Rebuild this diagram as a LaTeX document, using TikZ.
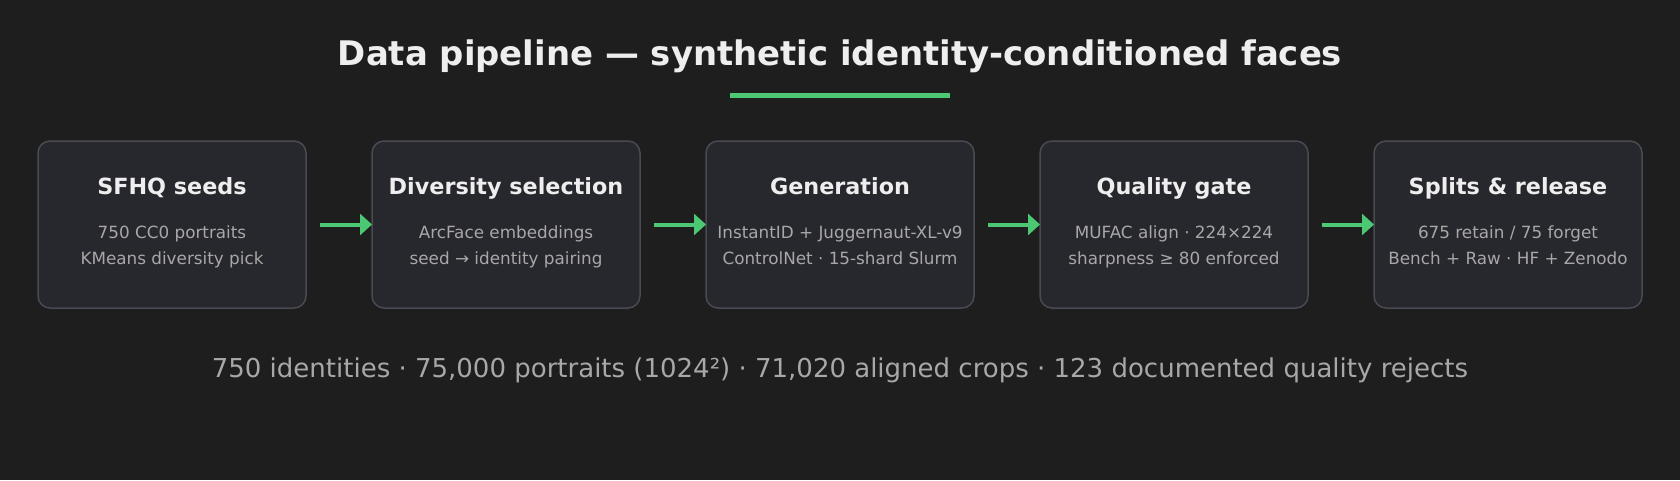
\documentclass[tikz,border=0pt]{standalone}
\usepackage{fontspec}
\setmainfont{DejaVu Sans}
\usetikzlibrary{arrows.meta, positioning}

\definecolor{bgcol}{HTML}{1E1E1E}
\definecolor{boxfill}{HTML}{27272E}
\definecolor{boxline}{HTML}{4A4A52}
\definecolor{accent}{HTML}{4CC872}
\definecolor{headcol}{HTML}{EEEEEE}
\definecolor{subcol}{HTML}{A8A8A8}

\begin{document}
\begin{tikzpicture}[
            x = 1pt,
            y = -1pt,
            > = {Triangle[length=12pt, width=21pt]},
            node distance = 66pt,
            font = \fontsize{16.8}{26}\selectfont
        ]

        \tikzstyle{stage}=[
            draw = boxline,
            line width = 1.5pt,
            fill = boxfill,
            rounded corners = 12pt,
            outer sep = 0pt,
            minimum width = 268pt,
            minimum height = 167pt
        ]
        \tikzset{head/.style={anchor=base, text=headcol, font=\fontsize{22.3}{26}\selectfont\bfseries}}
        \tikzset{sub/.style={anchor=base, text=subcol, align=center, inner sep=0pt}}
        \tikzset{flow/.style={->, draw=accent, fill=accent, line width=4pt}}

        % background and fixed size
        \fill[bgcol] (0,0) rectangle (1680,480);

        \node[anchor=base, text=headcol, font=\fontsize{33.9}{40}\selectfont\bfseries] (title) at (840,65) {Data pipeline — synthetic identity-conditioned faces};
        \coordinate (ul) at (840,95);
        \draw[accent, line width=5pt] ([xshift=-110pt]ul) -- ([xshift=110pt]ul);

        \node[stage] (seeds) at (172,224.5) {};
        \node[stage] (select) [right=of seeds] {};
        \node[stage] (gen) [right=of select] {};
        \node[stage] (gate) [right=of gen] {};
        \node[stage] (release) [right=of gate] {};

        % titles sit 30.5pt above centre, last sub line 39.5pt below
        \node[head] (seedsh) at ([yshift=30.5pt]seeds.center) {SFHQ seeds};
        \node[sub] at ([yshift=-39.5pt]seeds.center) {750 CC0 portraits\\KMeans diversity pick};
        \node[head] (selecth) at ([yshift=30.5pt]select.center) {Diversity selection};
        \node[sub] at ([yshift=-39.5pt]select.center) {ArcFace embeddings\\seed → identity pairing};
        \node[head] (genh) at ([yshift=30.5pt]gen.center) {Generation};
        \node[sub] at ([yshift=-39.5pt]gen.center) {InstantID + Juggernaut-XL-v9\\ControlNet · 15-shard Slurm};
        \node[head] (gateh) at ([yshift=30.5pt]gate.center) {Quality gate};
        \node[sub] at ([yshift=-39.5pt]gate.center) {MUFAC align · 224×224\\sharpness ≥ 80 enforced};
        \node[head] (releaseh) at ([yshift=30.5pt]release.center) {Splits \& release};
        \node[sub] at ([yshift=-39.5pt]release.center) {675 retain / 75 forget\\Bench + Raw · HF + Zenodo};

        % connectors
        \draw[flow] ([xshift=14pt]seeds.east) -- (select.west);
        \draw[flow] ([xshift=14pt]select.east) -- (gen.west);
        \draw[flow] ([xshift=14pt]gen.east) -- (gate.west);
        \draw[flow] ([xshift=14pt]gate.east) -- (release.west);

        \node[anchor=base, text=subcol, font=\fontsize{26}{30}\selectfont] (totals) at (840,377) {750 identities · 75,000 portraits (1024²) · 71,020 aligned crops · 123 documented quality rejects};

    \end{tikzpicture}
\end{document}
